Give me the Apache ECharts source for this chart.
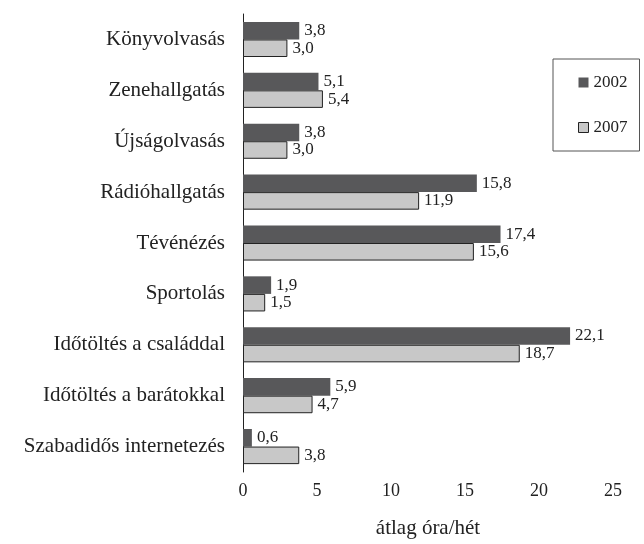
<!DOCTYPE html>
<html>
<head>
<meta charset="utf-8">
<script src="https://cdn.jsdelivr.net/npm/echarts@6/dist/echarts.min.js"></script>
<style>
  html, body { margin: 0; padding: 0; background: #fff; }
  #chart { width: 644px; height: 544px; }
</style>
</head>
<body>
<div id="chart"></div>
<script>
// adatok
var categories = ['Könyvolvasás', 'Zenehallgatás', 'Újságolvasás', 'Rádióhallgatás', 'Tévénézés',
  'Sportolás', 'Időtöltés a családdal', 'Időtöltés a barátokkal', 'Szabadidős internetezés'];
var years = ['2002', '2007'];
var values2002 = [3.8, 5.1, 3.8, 15.8, 17.4, 1.9, 22.1, 5.9, 0.6];
var values2007 = [3.0, 5.4, 3.0, 11.9, 15.6, 1.5, 18.7, 4.7, 3.8];
var xTicks = [0, 5, 10, 15, 20, 25];

var serif = 'Liberation Serif, DejaVu Serif, serif';

function fmt(p) {
  return p.value.toFixed(1).replace('.', ',');
}

var myChart = echarts.init(document.getElementById('chart'));
myChart.setOption({
  animation: false,
  textStyle: { fontFamily: serif },
  grid: { left: 243, right: 31, top: 14, bottom: 69 },
  legend: {
    orient: 'vertical',
    left: 553,
    top: 59,
    padding: [15, 12, 15, 25],
    itemGap: 28,
    itemWidth: 10,
    itemHeight: 10,
    borderColor: '#555',
    borderWidth: 1,
    textStyle: { fontFamily: serif, fontSize: 17, color: '#222' },
    data: [
      { name: years[0], icon: 'rect' },
      { name: years[1], icon: 'rect', itemStyle: { borderWidth: 1 } }
    ]
  },
  xAxis: {
    type: 'value',
    min: xTicks[0],
    max: xTicks[xTicks.length - 1],
    interval: 5,
    name: 'átlag óra/hét',
    nameLocation: 'middle',
    nameGap: 46,
    nameTextStyle: { fontFamily: serif, fontSize: 21, color: '#222' },
    splitLine: { show: false },
    axisLine: { lineStyle: { color: '#222' } },
    axisTick: { length: 5, lineStyle: { color: '#222' } },
    axisLabel: { fontFamily: serif, fontSize: 18, color: '#222', margin: 10 }
  },
  yAxis: {
    type: 'category',
    inverse: true,
    data: categories,
    axisLine: { lineStyle: { color: '#222' } },
    axisTick: { length: 6, lineStyle: { color: '#222' } },
    axisLabel: { fontFamily: serif, fontSize: 21, color: '#222', margin: 18 }
  },
  series: [
    {
      name: years[0],
      type: 'bar',
      data: values2002,
      barGap: '0%',
      barCategoryGap: '31%',
      itemStyle: { color: '#58585a' },
      label: { show: true, position: 'right', distance: 5, formatter: fmt,
        fontFamily: serif, fontSize: 17, color: '#222' }
    },
    {
      name: years[1],
      type: 'bar',
      data: values2007,
      itemStyle: { color: '#c8c8c8', borderColor: '#222', borderWidth: 1 },
      label: { show: true, position: 'right', distance: 5, formatter: fmt,
        fontFamily: serif, fontSize: 17, color: '#222' }
    }
  ]
});
</script>
</body>
</html>
